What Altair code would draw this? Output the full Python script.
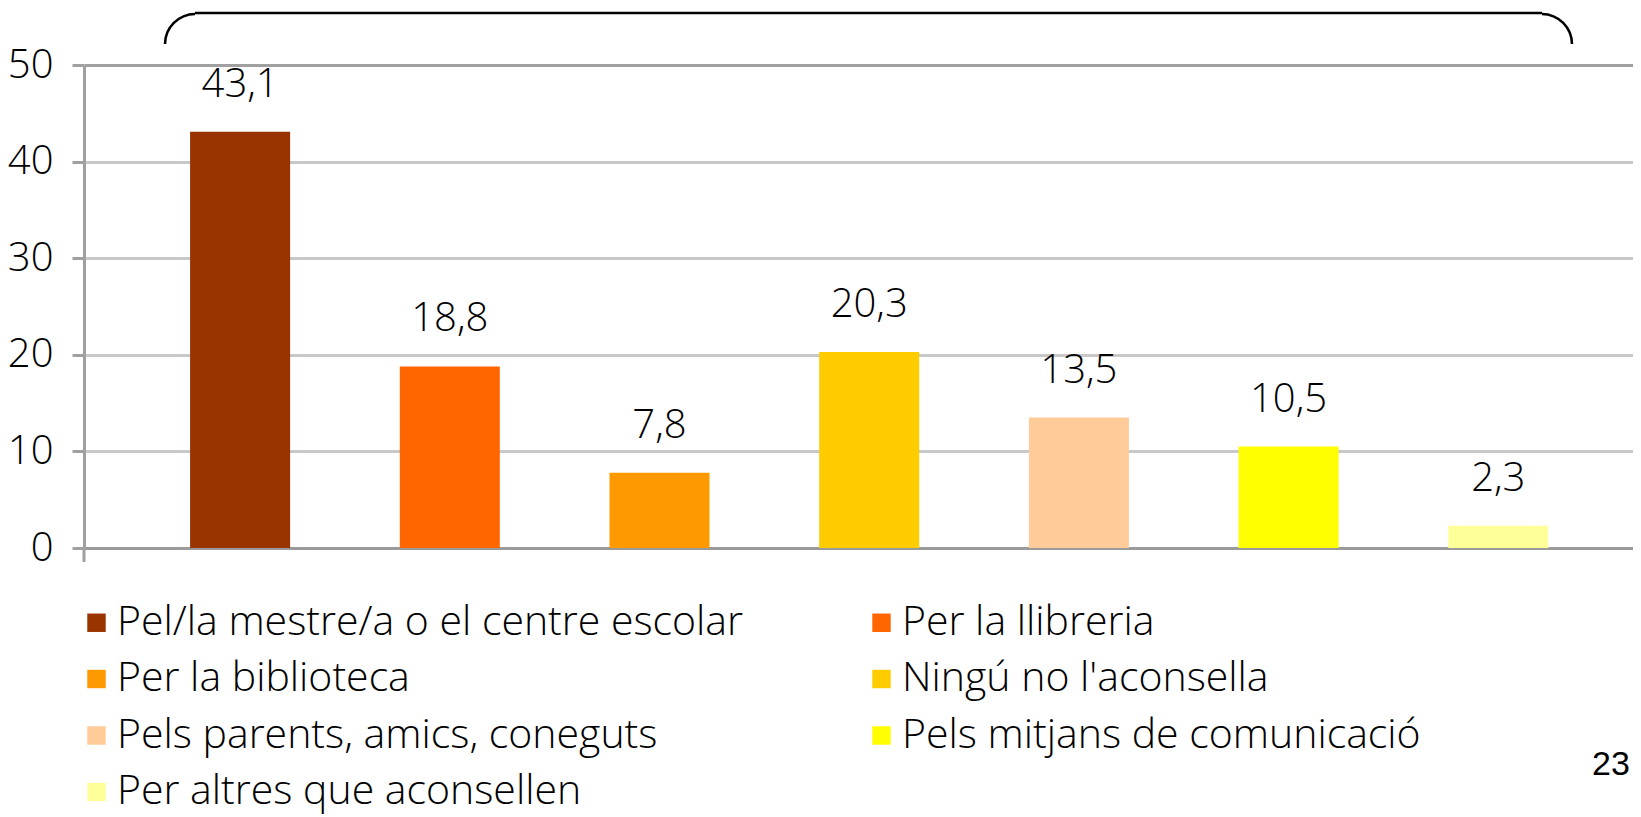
import altair as alt
import pandas as pd

categories = [
    "Pel/la mestre/a o el centre escolar",
    "Per la llibreria",
    "Per la biblioteca",
    "Ningú no l'aconsella",
    "Pels parents, amics, coneguts",
    "Pels mitjans de comunicació",
    "Per altres que aconsellen",
]
values = [43.1, 18.8, 7.8, 20.3, 13.5, 10.5, 2.3]
colors = ["#993300", "#FF6600", "#FF9900", "#FFCC00", "#FFCC99", "#FFFF00", "#FFFF99"]
y_ticks = [0, 10, 20, 30, 40, 50]
page_number = "23"

FONT = "Open Sans, Liberation Sans, sans-serif"
W = 300

df = pd.DataFrame({"categoria": categories, "valor": values})
one = pd.DataFrame({"k": [0]})

x_enc = alt.X(
    "categoria:N",
    sort=categories,
    scale=alt.Scale(paddingInner=0.523, paddingOuter=0.455, align=0.556),
    axis=alt.Axis(title=None, labels=False, ticks=False, domain=True,
                  domainColor="#9A9A9A", domainWidth=3, grid=False),
)
y_enc = alt.Y(
    "valor:Q",
    scale=alt.Scale(domain=[0, 50], nice=False, zero=True),
    axis=alt.Axis(
        title=None, values=y_ticks, grid=True,
        gridColor={"condition": {"test": "datum.value === 50", "value": "#A0A0A0"}, "value": "#C8C8C8"},
        gridWidth=3, domain=True, domainColor="#A0A0A0", domainWidth=3,
        tickColor="#A0A0A0", tickWidth=3, tickSize=12,
        labelFontSize=40, labelFont=FONT, labelFontWeight=W, labelColor="#000000", labelPadding=19,
    ),
)

bars = alt.Chart(df).mark_bar().encode(
    x=x_enc,
    y=y_enc,
    color=alt.Color(
        "categoria:N",
        scale=alt.Scale(domain=categories, range=colors),
        legend=alt.Legend(
            title=None, orient="none", legendX=-8, legendY=537, columns=2,
            direction="horizontal",
            columnPadding=117, rowPadding=14.5, symbolType="square", symbolSize=340,
            symbolStrokeWidth=0, labelFontSize=41, labelFont=FONT, labelFontWeight=W,
            labelColor="#000000", labelOffset=0, labelLimit=0, padding=0,
        ),
    ),
)

labels = alt.Chart(df).transform_calculate(
    etiqueta="replace(format(datum.valor, '.1f'), '.', ',')"
).mark_text(dy=-47, baseline="middle", fontSize=40, font=FONT, fontWeight=W, color="#000000").encode(
    x=x_enc, y=y_enc, text="etiqueta:N"
)

bracket_top = alt.Chart(one).mark_rule(color="#000000", strokeWidth=2.5).encode(
    x=alt.value(111), x2=alt.value(1458), y=alt.value(-52)
)
bracket_left = alt.Chart(one).mark_arc(
    color="#000000", theta=4.7124, theta2=6.2832, radius=31.25, radius2=28.75
).encode(x=alt.value(111), y=alt.value(-21))
bracket_right = alt.Chart(one).mark_arc(
    color="#000000", theta=0, theta2=1.5708, radius=31.25, radius2=28.75
).encode(x=alt.value(1458), y=alt.value(-21))

axis_ext = alt.Chart(one).mark_rule(color="#A0A0A0", strokeWidth=3).encode(
    x=alt.value(0), y=alt.value(483), y2=alt.value(497)
)

page = alt.Chart(one).mark_text(
    text=page_number, fontSize=34, font="Liberation Sans, Arial, sans-serif",
    align="left", baseline="middle", color="#000000"
).encode(x=alt.value(1508), y=alt.value(700))

chart = alt.layer(
    bars, labels, bracket_top, bracket_left, bracket_right, axis_ext, page
).properties(
    width=1549, height=483,
    autosize=alt.AutoSizeParams(type="none"),
    padding={"left": 76, "top": 57, "right": 0, "bottom": 269},
).configure_view(stroke=None)

chart.save("out.html", embed_options={"renderer": "svg", "actions": False})
